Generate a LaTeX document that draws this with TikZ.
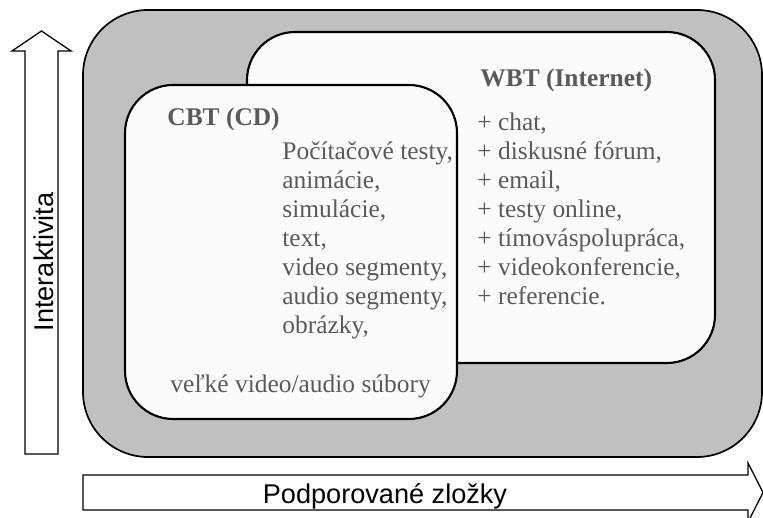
\documentclass[tikz,border=0pt]{standalone}
\usepackage{fontspec}
\setmainfont{Liberation Serif}
\setsansfont{Liberation Sans}
\usepackage{xcolor}
\definecolor{shellgray}{HTML}{C0C0C0}
\definecolor{panel}{HTML}{FBFBFB}
\definecolor{ink}{HTML}{5A5A5A}

\begin{document}
\begin{tikzpicture}[x=0.472pt, y=-0.472pt,
    panelbox/.style={draw, line width=1pt, fill=panel, rounded corners=22.7pt},
    blockarrow/.style={draw, line width=0.6pt, fill=white},
    item/.style={anchor=base west, inner sep=0pt, text=ink, font=\fontsize{12}{14}\selectfont},
    title/.style={item, font=\fontsize{12}{14}\selectfont\bfseries},
    axislabel/.style={anchor=base, inner sep=0pt, font=\sffamily\fontsize{12.8}{15}\selectfont}]
      \pgfmathsetmacro{\s}{29}
      \useasboundingbox (0,0) rectangle (763,518);
      \draw[fill=shellgray, line width=0.8pt, rounded corners=30.7pt] (83,10) rectangle (762,457);
      \draw[panelbox] (247,32) rectangle (715,363);
      \draw[panelbox] (125,85) rectangle (457,419);

      \node[title] (wbt) at (480,87) {WBT (Internet)};
      \foreach \t [count=\i from 0] in {{chat,}, {diskusné fórum,}, {email,}, {testy online,}, {tímováspolupráca,}, {videokonferencie,}, {referencie.}}
        \node[item] (wbt\i) at (477,131+\i*\s) {+ \t};

      \node[title] (cbt) at (167,126) {CBT (CD)};
      \foreach \t [count=\i from 0] in {{Počítačové testy,}, {animácie,}, {simulácie,}, {text,}, {video segmenty,}, {audio segmenty,}, {obrázky,}}
        \node[item] (cbt\i) at (282,160+\i*\s) {\t};
      \node[item] (files) at (170,393) {veľké video/audio súbory};

      \draw[blockarrow] (25,454) -- (25,51) -- (12,51) -- (41.5,31) -- (71,51) -- (58,51) -- (58,454) -- cycle;
      \draw[blockarrow] (83,475) -- (748,475) -- (748,463) -- (763,492.5) -- (748,522) -- (748,510) -- (83,510) -- cycle;
      \node[axislabel, rotate=90] (inter) at (53,262) {Interaktivita};
      \node[axislabel] (zlozky) at (385,503) {Podporované zložky};
\end{tikzpicture}
\end{document}
